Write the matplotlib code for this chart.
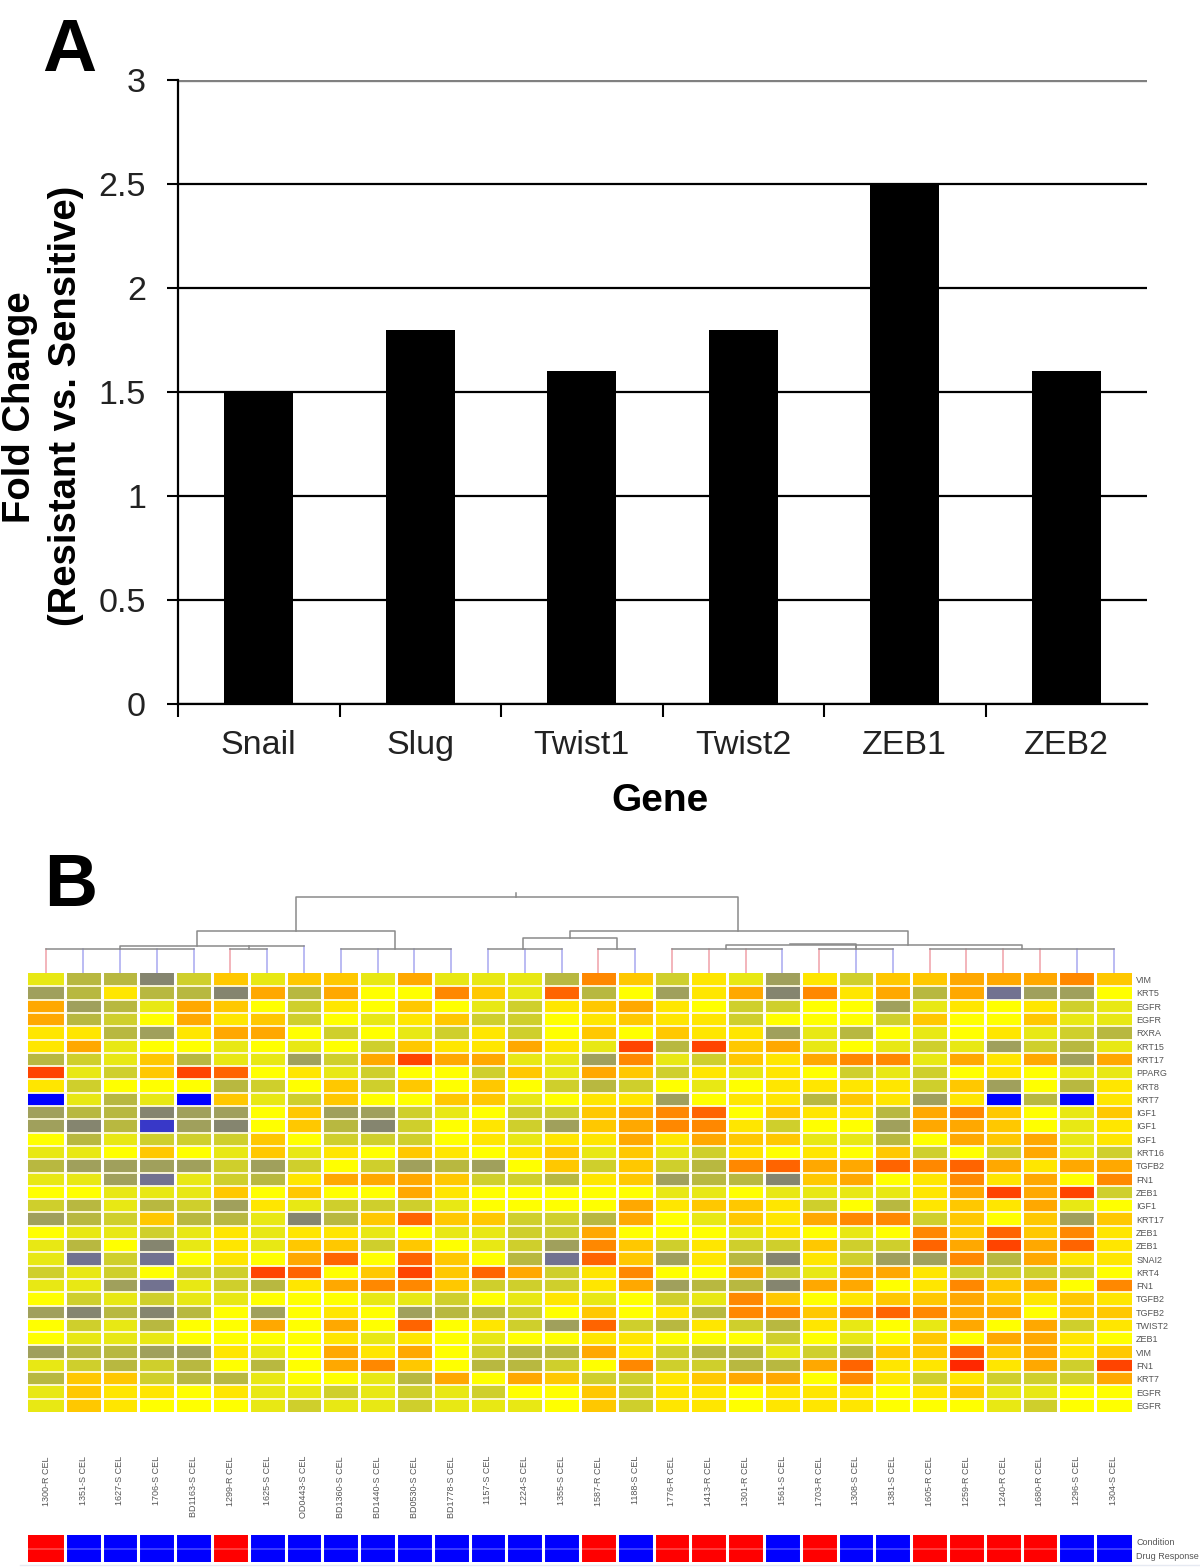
import matplotlib
matplotlib.use('Agg')
import matplotlib.pyplot as plt
import numpy as np
from matplotlib.colors import ListedColormap, BoundaryNorm
from matplotlib.lines import Line2D
from matplotlib.transforms import blended_transform_factory

plt.rcParams['font.family'] = ['Liberation Sans', 'DejaVu Sans']

# panel A
genes = ['Snail', 'Slug', 'Twist1', 'Twist2', 'ZEB1', 'ZEB2']
fold_change = [1.5, 1.8, 1.6, 1.8, 2.5, 1.6]
y_ticks = [0, 0.5, 1, 1.5, 2, 2.5, 3]
y_tick_labels = ['0', '0.5', '1', '1.5', '2', '2.5', '3']

# panel B
row_names = ['VIM', 'KRT5', 'EGFR', 'EGFR', 'RXRA', 'KRT15', 'KRT17', 'PPARG', 'KRT8', 'KRT7', 'IGF1',
             'IGF1', 'IGF1', 'KRT16', 'TGFB2', 'FN1', 'ZEB1', 'IGF1', 'KRT17', 'ZEB1', 'ZEB1', 'SNAI2',
             'KRT4', 'FN1', 'TGFB2', 'TGFB2', 'TWIST2', 'ZEB1', 'VIM', 'FN1', 'KRT7', 'EGFR', 'EGFR']
samples = ['1300-R CEL', '1351-S CEL', '1627-S CEL', '1706-S CEL', 'BD1163-S CEL', '1299-R CEL',
           '1625-S CEL', 'OD0443-S CEL', 'BD1360-S CEL', 'BD1440-S CEL', 'BD0530-S CEL', 'BD1778-S CEL',
           '1157-S CEL', '1224-S CEL', '1355-S CEL', '1587-R CEL', '1188-S CEL', '1776-R CEL',
           '1413-R CEL', '1301-R CEL', '1561-S CEL', '1703-R CEL', '1308-S CEL', '1381-S CEL',
           '1605-R CEL', '1259-R CEL', '1240-R CEL', '1680-R CEL', '1296-S CEL', '1304-S CEL']
# 1 = resistant (red), 0 = sensitive (blue)
response = [1, 0, 0, 0, 0, 1, 0, 0, 0, 0, 0, 0, 0, 0, 0, 1, 0, 1, 1, 1, 0, 1, 0, 0, 1, 1, 1, 1, 0, 0]
strip_names = ['Condition', 'Drug Response']

# expression level per cell, read by eye: -8 blue ... 0 yellow ... 7 red
expr = [
    [-1, -3, -3, -5, -2, 2, -1, 2, 2, -1, 3, -1, -1, -1, -3, 4, 2, -2, 1, -1, -4, 1, -2, 2, 2, 3, 3, 3, 4, 2],
    [-4, -3, 1, -3, -3, -5, 3, -3, 3, 0, 0, 4, 2, -1, 5, -3, 0, -4, 1, 3, -5, 4, 1, 3, -3, 3, -6, -4, -4, 0],
    [3, -4, -3, -1, 3, 2, 0, -2, 1, 0, 2, 0, -1, -2, 1, 2, 3, 1, 0, -2, -2, 0, 0, -4, -1, 1, 0, 1, -2, -1],
    [3, -3, -2, 0, 3, 1, 2, -2, 0, -1, 1, 2, -2, -2, 0, 1, 2, 1, 1, -2, 0, 0, 0, -2, 2, 0, 0, 2, -1, -1],
    [1, 1, -3, -4, 1, 3, 3, 0, -2, 0, -1, -2, 1, -2, 0, 2, 0, 2, 1, 1, -4, -1, -3, 0, -1, 0, 1, -1, -2, -3],
    [1, 3, -1, 0, 0, -1, 0, -1, 0, -2, 2, 1, 1, 3, 1, -1, 6, -3, 6, 2, 3, -1, 0, -1, -2, -1, -4, -2, -3, -1],
    [-3, -2, -1, 2, -3, -1, -1, -4, -2, 3, 6, 3, 3, -1, -1, -4, 4, -1, -2, 2, 1, 3, 4, 4, -1, 3, 1, 3, -4, 3],
    [6, -1, -2, 2, 6, 5, 0, 1, -1, -2, 0, 0, -2, 2, -1, 3, 2, -2, 1, -1, 1, 0, -2, -1, -2, 0, 1, 0, -1, -1],
    [1, -2, 0, 0, 0, -3, -2, 0, 2, -2, 2, 0, 2, 0, -2, -3, -2, 0, -1, 0, 1, 1, 1, 1, -2, 2, -4, 0, -3, 1],
    [-8, -1, -3, -1, -8, 2, -1, -2, 2, 0, 0, 2, 2, -1, 0, 1, 1, -4, 0, 1, 1, -3, 2, 1, -4, 1, -8, -3, -8, 1],
    [-4, -3, -3, -5, -4, -4, 0, 2, -4, -4, -2, -1, 0, -2, -2, 2, 3, 4, 5, 0, 2, 1, 1, -3, 3, 4, 2, 0, -1, 2],
    [-4, -5, -3, -7, -4, -5, 0, 2, -3, -5, -2, 0, 1, -2, -4, 2, 3, 4, 4, 1, -2, 0, 0, -4, 3, 3, 2, 0, -1, 1],
    [0, -3, -1, -2, -2, -2, 2, 0, -2, -2, -2, 0, 1, -1, 1, 1, 3, 1, 3, 2, 2, -1, -1, -3, 0, 3, 2, 3, -1, 1],
    [-1, -1, 0, 2, 0, -1, 2, -1, 1, 0, 2, 1, 0, 1, 2, -1, 2, -1, -2, 1, 0, 1, 0, 2, -2, 0, -2, 3, -1, -2],
    [-3, -4, -4, -4, -4, -2, -4, -2, 0, -2, -4, -3, -4, 0, 2, -2, 2, -2, -3, 4, 5, 3, 3, 5, 4, 5, 3, 1, 3, 3],
    [-1, -1, -4, -6, -1, -2, -3, 1, 3, 3, 3, 2, -2, -2, -3, 1, 2, -4, -3, -3, -5, 2, 3, 0, 1, 4, 1, 3, 0, 4],
    [0, 0, -1, -1, -1, 2, 0, 2, 0, 0, 3, 1, 0, 0, 0, 0, 0, -1, -1, 0, -1, -1, -1, -1, 1, 3, 6, 3, 6, -2],
    [-2, -3, -1, -3, -2, -4, 1, -1, -2, -2, -2, -1, 0, 0, 0, 0, 3, 1, 2, 2, 1, -2, 0, -3, 1, 2, 1, 3, -1, 0],
    [-4, -3, -2, 2, -3, -3, -1, -5, -3, 2, 5, 2, 2, -2, -2, -3, 3, 0, -1, 2, 1, 3, 4, 4, -2, 2, 0, 2, -4, 2],
    [0, -1, -1, -2, -1, 1, -1, 1, 1, -1, 0, -1, -1, -2, -2, 3, 0, 0, 0, -1, 1, 0, -1, 0, 4, 2, 5, 2, 4, 1],
    [-1, -3, 0, -5, -1, 1, -1, 2, 2, -2, 2, 0, -1, -2, -4, 4, 2, -2, 1, -2, -2, 2, -2, -2, 5, 3, 6, 3, 5, 1],
    [-1, -6, -2, -6, 0, 1, 0, 3, 5, 0, 5, 2, 0, -3, -6, 5, 2, -4, 1, -3, -5, 1, -2, -4, -4, 4, -3, 3, 1, 1],
    [-2, -1, -2, 0, -2, -2, 6, 5, 0, 2, 6, 2, 5, 3, -2, 1, 4, 0, 0, 3, -2, -1, 3, 3, 1, -2, -2, -2, -2, 0],
    [-1, -1, -4, -6, -1, -2, -3, 1, 3, 4, 4, 2, -2, -2, -2, 1, 3, -4, -3, -3, -5, 3, 3, 0, 1, 4, 2, 3, 0, 4],
    [0, -2, -1, -2, -1, -1, 0, 0, 0, -1, -1, -2, 0, -1, 1, -1, 0, -2, -1, 4, 2, 0, 1, 2, 2, 3, 2, 1, 2, 1],
    [-4, -5, -3, -5, -3, 0, -4, 0, 1, 0, -4, -3, -3, -2, 0, 2, 0, 1, -3, 4, 4, 2, 4, 5, 4, 3, 3, 0, 2, 2],
    [0, -2, -1, -3, 0, 0, 3, 0, 3, 0, 5, 0, 1, -2, -4, 5, -2, -3, 1, -2, -3, 1, -1, 0, -1, 3, 0, 3, -2, 1],
    [0, -1, -1, -1, 0, 0, 0, 0, 1, -1, 1, 0, -1, 0, 0, 1, 1, 0, 0, 0, -2, 0, -1, 0, 2, 0, 3, 3, 1, 0],
    [-4, -3, -3, -4, -4, 1, -1, 0, 3, 1, 3, 0, -2, -3, -3, 3, 1, -2, -3, -3, -1, -2, -3, 2, 2, 5, 2, 3, 1, 2],
    [-1, -2, -3, -2, -3, 0, -3, 0, 3, 4, 2, 0, -3, -3, -2, 0, 4, -2, -2, -3, -3, 3, 5, 1, 1, 7, 1, 3, -2, 6],
    [-3, 2, 2, -2, -3, -3, -1, 0, 0, -1, -3, 3, 0, 3, 2, -2, -2, 1, 2, 3, 3, 0, 4, 1, -2, 1, -2, -2, -2, 3],
    [-1, 2, 1, 1, 0, 1, -1, -1, -2, -1, -2, -1, -2, 0, 0, 2, -2, 1, 1, 0, 1, 1, 1, 0, 1, 2, -1, -1, 0, 0],
    [-1, 2, 1, 0, 0, 0, -1, -2, -1, -1, -2, -1, -1, -1, 0, 2, -2, 1, 1, 0, 1, 1, 1, 0, 0, 0, -1, -2, 0, 0],
]
level_colors = ['#0000ff', '#3838c8', '#727290', '#85856f', '#a0a05c', '#b8b840', '#cfcf2c', '#e8e814',
                '#ffff00', '#ffe600', '#ffc800', '#ffa800', '#ff8800', '#ff6400', '#ff4400', '#ff2800']

# dendrogram, x in column numbers, heights above the heatmap
leaf_clusters = [(1, 5, 24), (6, 7, 24), (9, 12, 24), (13, 15, 24), (16, 17, 24), (18, 21, 24), (22, 24, 24), (25, 30, 24)]
# left x, right x, height, left child height, right child height
merges = [(3, 8, 27, 24, 27), (5.08, 10.48, 42, 27, 24), (13.96, 16.5, 35, 24, 24), (15.24, 24.4, 42, 35, 28),
          (19.47, 27.5, 28, 24, 24), (21.2, 23, 29, 29, 24), (7.77, 19.8, 76, 42, 42)]
stem_x = [(6.5, 24, 27), (23, 24, 28), (13.77, 76, 80)]


def px_axes(left, top, right, bottom):
    return fig.add_axes([left / W, 1 - bottom / H, (right - left) / W, (bottom - top) / H])


W, H = 1200, 1568
fig = plt.figure(figsize=(W / 100, H / 100), dpi=100)

# ---- A ----
ax = px_axes(178, 80, 1147, 704)
ax.bar(np.arange(6), fold_change, width=0.43, color='black', zorder=3)
ax.set_xlim(-0.5, 5.5)
ax.set_ylim(0, 3)
ax.set_yticks(y_ticks)
ax.set_yticklabels(y_tick_labels, fontsize=24.5, color='#222222')
ax.set_xticks(np.arange(6) - 0.5)
ax.set_xticklabels([])
ax.set_xticks(np.arange(6), labels=genes, minor=True, fontsize=24.5, color='#222222')
ax.tick_params(axis='x', which='minor', length=0, pad=18.5)
ax.tick_params(axis='x', which='major', length=9, width=1.5)
ax.tick_params(axis='y', length=8, width=1.5, pad=15)
ax.grid(axis='y', color='black', lw=1.6, zorder=1)
for s in ['top', 'right']:
    ax.spines[s].set_visible(False)
for s in ['left', 'bottom']:
    ax.spines[s].set_linewidth(1.6)
ax.get_ygridlines()[-1].set_color('#808080')
ax.get_ygridlines()[-1].set_linewidth(2.4)
ax.set_xlabel('Gene', fontsize=28, fontweight='bold', labelpad=16, x=0.497)
fig.text(20 / W, 1 - 407 / H, 'Fold Change', rotation=90, fontsize=27.5, fontweight='bold', ha='center', va='center')
fig.text(66 / W, 1 - 406 / H, '(Resistant vs. Sensitive)', rotation=90, fontsize=27.5, fontweight='bold', ha='center', va='center')
fig.text(42 / W, 1 - 71 / H, 'A', fontsize=54, fontweight='bold', ha='left', va='baseline')
fig.text(44 / W, 1 - 906 / H, 'B', fontsize=53, fontweight='bold', ha='left', va='baseline')

# ---- B heatmap ----
cmap = ListedColormap(level_colors)
norm = BoundaryNorm(np.arange(-8.5, 8.5), cmap.N)
axh = px_axes(28, 973, 1132, 1412)
axh.imshow(np.array(expr), cmap=cmap, norm=norm, aspect='auto', interpolation='nearest')
for x in np.arange(0.5, 29.5):
    axh.axvline(x, color='white', lw=2.2)
for y in np.arange(0.5, 32.5):
    axh.axhline(y, color='#fffbe0', lw=1.3)
axh.set_xticks([])
axh.yaxis.tick_right()
axh.set_yticks(np.arange(len(row_names)))
axh.set_yticklabels(row_names, fontsize=6.5, color='#555555')
axh.tick_params(axis='y', length=0, pad=3)
for s in axh.spines.values():
    s.set_visible(False)

# ---- sample names ----
trans = blended_transform_factory(axh.transData, fig.transFigure)
for i, name in enumerate(samples):
    axh.text(i, 1 - 1456 / H, name, rotation=90, fontsize=6.5, color='#555555',
             ha='center', va='top', transform=trans, clip_on=False)

# ---- strip ----
axs = px_axes(28, 1535, 1132, 1562)
strip = np.array([response, response])
axs.imshow(strip, cmap=ListedColormap(['#0000ff', '#ff0000']), vmin=0, vmax=1, aspect='auto', interpolation='nearest')
for x in np.arange(0.5, 29.5):
    axs.axvline(x, color='white', lw=2.2)
axs.axhline(0.5, color='white', lw=1.3, alpha=0.25)
axs.set_xticks([])
axs.yaxis.tick_right()
axs.set_yticks([0, 1])
axs.set_yticklabels(strip_names, fontsize=6.5, color='#555555')
axs.tick_params(axis='y', length=0, pad=3)
for s in axs.spines.values():
    s.set_visible(False)
fig.add_artist(Line2D([20 / W, 1], [1 - 1565 / H] * 2, color='#e6eaf2', lw=1, transform=fig.transFigure))

# ---- dendrogram ----
axd = px_axes(28, 890, 1132, 973)
axd.set_xlim(0.5, 30.5)
axd.set_ylim(0, 83)
axd.axis('off')
line_col = '#8a8a8a'
for i, r in enumerate(response):
    h = 27 if i + 1 == 8 else 24
    axd.plot([i + 1, i + 1], [0, h], color='#f0a0a8' if r else '#a8a8f0', lw=1.1)
for a, b, h in leaf_clusters:
    axd.plot([a, b], [h, h], color=line_col, lw=1.1)
for a, b, h, ha, hb in merges:
    axd.plot([a, a, b, b], [ha, h, h, hb], color=line_col, lw=1.1)
for x, y0, y1 in stem_x:
    axd.plot([x, x], [y0, y1], color=line_col, lw=1.1)

fig.savefig('out.png', dpi=100)
